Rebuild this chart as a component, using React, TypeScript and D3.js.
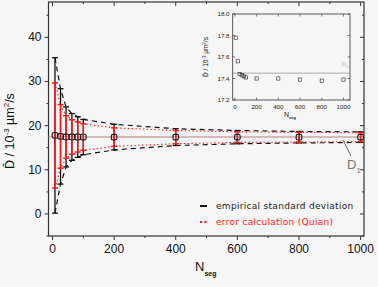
import React from 'react'
import * as d3 from 'd3'

const W = 378
const H = 287

// data
const nSeg = [8, 26, 44, 63, 82, 100, 200, 400, 600, 800, 1000]
const dMean = [17.78, 17.56, 17.44, 17.43, 17.42, 17.41, 17.4, 17.4, 17.39, 17.38, 17.39]
const sdEmpirical = [17.6, 10.8, 6.8, 5.3, 4.6, 4.0, 2.9, 1.9, 1.5, 1.3, 1.2]
const sdQuian = [11.9, 7.2, 4.8, 3.9, 3.4, 3.0, 2.1, 1.5, 1.2, 1.1, 1.0]
const d1 = 17.45

const xTicks = [0, 200, 400, 600, 800, 1000]
const yTicks = [0, 10, 20, 30, 40]
const insetYTicks = [17.2, 17.4, 17.6, 17.8, 18.0]

const legendLabels = ['empirical standard deviation', 'error calculation (Quian)']

const App: React.FC = () => {
    const margin = { left: 48.5, right: 364, top: 2, bottom: 236 }
    const x = d3.scaleLinear().domain([-13, 1011]).range([margin.left, margin.right])
    const y = d3.scaleLinear().domain([-5, 48]).range([margin.bottom, margin.top])

    // inset
    const ix = d3.scaleLinear().domain([-20, 1060]).range([232.7, 350])
    const iy = d3.scaleLinear().domain([17.2, 18.0]).range([100, 14])

    const pts = nSeg.map((n, i) => ({ n, m: dMean[i], e: sdEmpirical[i], q: sdQuian[i] }))

    const line = d3.line<[number, number]>().x((d) => d[0]).y((d) => d[1])
    const envelope = (sd: 'e' | 'q', sign: number) =>
        line(pts.map((p) => [x(p.n), y(p.m + sign * p[sd])] as [number, number]))

    const minorX = d3.range(100, 1001, 200)
    const minorY = d3.range(-5, 48, 10)

    const red = '#ff1a1a'
    const frame = '#333'

    return (
        <svg width={W} height={H} style={{ position: 'absolute', left: 0, top: 0 }}>
            <rect width={W} height={H} fill="#f6f6f6" />

            {/* main frame */}
            <rect
                x={margin.left}
                y={margin.top}
                width={margin.right - margin.left}
                height={margin.bottom - margin.top}
                fill="none"
                stroke={frame}
                strokeWidth={1.2}
            />

            {/* x ticks */}
            {xTicks.map((t) => (
                <g key={'xt' + t}>
                    <line x1={x(t)} x2={x(t)} y1={margin.bottom} y2={margin.bottom + 4} stroke={frame} />
                    <line x1={x(t)} x2={x(t)} y1={margin.top} y2={margin.top + 4} stroke={frame} />
                    <text
                        x={x(t)}
                        y={margin.bottom + 17}
                        textAnchor="middle"
                        fontFamily="Liberation Sans, Arial, sans-serif"
                        fontSize={12}
                        fill="#111"
                    >
                        {t}
                    </text>
                </g>
            ))}
            {minorX.map((t) => (
                <g key={'xm' + t}>
                    <line x1={x(t)} x2={x(t)} y1={margin.bottom} y2={margin.bottom + 2} stroke={frame} />
                    <line x1={x(t)} x2={x(t)} y1={margin.top} y2={margin.top + 2} stroke={frame} />
                </g>
            ))}

            {/* y ticks */}
            {yTicks.map((t) => (
                <g key={'yt' + t}>
                    <line x1={margin.left - 4} x2={margin.left} y1={y(t)} y2={y(t)} stroke={frame} />
                    <line x1={margin.right - 4} x2={margin.right} y1={y(t)} y2={y(t)} stroke={frame} />
                    <text
                        x={margin.left - 7}
                        y={y(t) + 4}
                        textAnchor="end"
                        fontFamily="Liberation Sans, Arial, sans-serif"
                        fontSize={12}
                        fill="#111"
                    >
                        {t}
                    </text>
                </g>
            ))}
            {minorY.map((t) => (
                <g key={'ym' + t}>
                    <line x1={margin.left - 2} x2={margin.left} y1={y(t)} y2={y(t)} stroke={frame} />
                    <line x1={margin.right - 2} x2={margin.right} y1={y(t)} y2={y(t)} stroke={frame} />
                </g>
            ))}

            {/* axis labels */}
            <text
                transform={`translate(14,${131}) rotate(-90)`}
                textAnchor="middle"
                fontFamily="Liberation Sans, Arial, sans-serif"
                fontSize={12.5}
                fill="#111"
            >
                {'D\u0304 / 10'}
                <tspan dy={-5} fontSize={8}>-3</tspan>
                <tspan dy={5}>{' \u00b5m'}</tspan>
                <tspan dy={-5} fontSize={8}>2</tspan>
                <tspan dy={5}>/s</tspan>
            </text>
            <text x={195} y={271} fontFamily="Liberation Sans, Arial, sans-serif" fontSize={13} fill="#111">
                N
                <tspan dy={5} fontSize={7} fontWeight="bold">seg</tspan>
            </text>

            {/* D1 reference line and gray connecting line */}
            <line x1={margin.left} x2={margin.right} y1={y(d1)} y2={y(d1)} stroke="#f08a8a" strokeWidth={0.9} />
            <path d={line(pts.map((p) => [x(p.n), y(p.m)]))!} fill="none" stroke="#aaa" strokeWidth={0.8} />

            {/* envelopes */}
            <path d={envelope('e', 1)!} fill="none" stroke="#111" strokeWidth={1.2} strokeDasharray="5,4" />
            <path d={envelope('e', -1)!} fill="none" stroke="#111" strokeWidth={1.2} strokeDasharray="5,4" />
            <path d={envelope('q', 1)!} fill="none" stroke={red} strokeWidth={1.1} strokeDasharray="1.4,2.4" />
            <path d={envelope('q', -1)!} fill="none" stroke={red} strokeWidth={1.1} strokeDasharray="1.4,2.4" />

            {/* empirical error bars */}
            {pts.map((p) => (
                <g key={'e' + p.n} stroke="#111" strokeWidth={1.3}>
                    <line x1={x(p.n)} x2={x(p.n)} y1={y(p.m - p.e)} y2={y(p.m + p.e)} />
                    <line x1={x(p.n) - 3} x2={x(p.n) + 3} y1={y(p.m - p.e)} y2={y(p.m - p.e)} />
                    <line x1={x(p.n) - 3} x2={x(p.n) + 3} y1={y(p.m + p.e)} y2={y(p.m + p.e)} />
                </g>
            ))}
            {/* Quian error bars */}
            {pts.map((p) => (
                <g key={'q' + p.n} stroke={red} strokeWidth={1.5}>
                    <line x1={x(p.n)} x2={x(p.n)} y1={y(p.m - p.q)} y2={y(p.m + p.q)} />
                    <line x1={x(p.n) - 3} x2={x(p.n) + 3} y1={y(p.m - p.q)} y2={y(p.m - p.q)} />
                    <line x1={x(p.n) - 3} x2={x(p.n) + 3} y1={y(p.m + p.q)} y2={y(p.m + p.q)} />
                </g>
            ))}
            {/* points */}
            {pts.map((p) => (
                <rect
                    key={'p' + p.n}
                    x={x(p.n) - 2.8}
                    y={y(p.m) - 2.8}
                    width={5.6}
                    height={5.6}
                    rx={1.6}
                    fill="none"
                    stroke="#222"
                    strokeWidth={1.2}
                />
            ))}

            {/* D1 annotation */}
            <line x1={343} y1={140} x2={351} y2={156} stroke="#666" strokeWidth={1} />
            <text x={347} y={169} fontFamily="Liberation Sans, Arial, sans-serif" fontSize={13} fill="#777">
                D<tspan dy={4} fontSize={8}>1</tspan>
            </text>

            {/* legend */}
            <line x1={200} x2={207} y1={206} y2={206} stroke="#111" strokeWidth={2} />
            <line x1={200} x2={207} y1={222} y2={222} stroke={red} strokeWidth={2} strokeDasharray="2,2.5" />
            <text
                x={216}
                y={209}
                fontFamily="DejaVu Sans, Verdana, sans-serif"
                fontSize={9}
                letterSpacing={0.3}
                fill="#222"
            >
                {legendLabels[0]}
            </text>
            <text
                x={216}
                y={225}
                fontFamily="DejaVu Sans, Verdana, sans-serif"
                fontSize={9}
                letterSpacing={0.3}
                fill={red}
            >
                {legendLabels[1]}
            </text>

            {/* inset */}
            <g>
                <rect x={232.7} y={14} width={350 - 232.7} height={86} fill="none" stroke="#333" strokeWidth={0.8} />
                <line x1={232.7} x2={350} y1={iy(d1)} y2={iy(d1)} stroke="#888" strokeWidth={0.7} />
                <text x={342} y={66} fontFamily="Liberation Sans, Arial, sans-serif" fontSize={6} fill="#bbb">
                    D<tspan dy={1.5} fontSize={4}>1</tspan>
                </text>
                {xTicks.map((t) => (
                    <g key={'ixt' + t}>
                        <line x1={ix(t)} x2={ix(t)} y1={100} y2={97.5} stroke="#333" strokeWidth={0.6} />
                        <line x1={ix(t)} x2={ix(t)} y1={14} y2={16.5} stroke="#333" strokeWidth={0.6} />
                        <text
                            x={ix(t)}
                            y={108.5}
                            textAnchor="middle"
                            fontFamily="Liberation Sans, Arial, sans-serif"
                            fontSize={6.2}
                            fill="#222"
                        >
                            {t}
                        </text>
                    </g>
                ))}
                {insetYTicks.map((t) => (
                    <g key={'iyt' + t}>
                        <line x1={232.7} x2={235.2} y1={iy(t)} y2={iy(t)} stroke="#333" strokeWidth={0.6} />
                        <line x1={347.5} x2={350} y1={iy(t)} y2={iy(t)} stroke="#333" strokeWidth={0.6} />
                        <text
                            x={229.5}
                            y={iy(t) + 2}
                            textAnchor="end"
                            fontFamily="Liberation Sans, Arial, sans-serif"
                            fontSize={6.2}
                            fill="#222"
                        >
                            {t.toFixed(1)}
                        </text>
                    </g>
                ))}
                <text
                    transform={`translate(208,57) rotate(-90)`}
                    textAnchor="middle"
                    fontFamily="Liberation Sans, Arial, sans-serif"
                    fontSize={6.5}
                    fill="#222"
                >
                    {'D\u0304 / 10'}
                    <tspan dy={-2.5} fontSize={4.5}>-3</tspan>
                    <tspan dy={2.5}>{' \u00b5m'}</tspan>
                    <tspan dy={-2.5} fontSize={4.5}>2</tspan>
                    <tspan dy={2.5}>/s</tspan>
                </text>
                <text x={284} y={117} fontFamily="Liberation Sans, Arial, sans-serif" fontSize={7} fill="#222">
                    N<tspan dy={2} fontSize={4} fontWeight="bold">seg</tspan>
                </text>
                {pts.map((p) => (
                    <rect
                        key={'ip' + p.n}
                        x={ix(p.n) - 1.6}
                        y={iy(p.m) - 1.6}
                        width={3.2}
                        height={3.2}
                        fill="none"
                        stroke="#222"
                        strokeWidth={0.6}
                    />
                ))}
            </g>
        </svg>
    )
}

export default App
